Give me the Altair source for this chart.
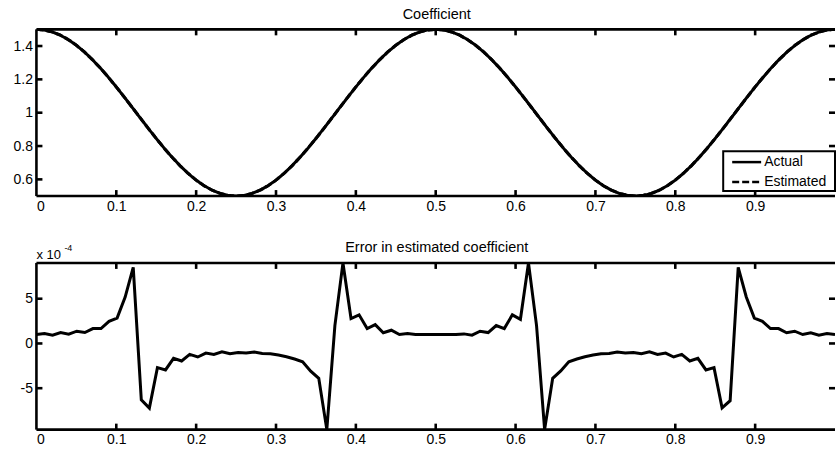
import altair as alt
import pandas as pd

# ---------------- data ----------------
# top panel: coefficient sampled on x = 0.00 ... 1.00 (step 0.01)
coef_x = [round(i * 0.01, 2) for i in range(101)]
coef_actual = [
    1.5, 1.4961, 1.4843, 1.4649, 1.4382, 1.4045, 1.3645, 1.3187, 1.2679, 1.2129,
    1.1545, 1.0937, 1.0314, 0.9686, 0.9063, 0.8455, 0.7871, 0.7321, 0.6813, 0.6355,
    0.5955, 0.5618, 0.5351, 0.5157, 0.5039, 0.5,
    0.5039, 0.5157, 0.5351, 0.5618, 0.5955, 0.6355, 0.6813, 0.7321, 0.7871, 0.8455,
    0.9063, 0.9686, 1.0314, 1.0937, 1.1545, 1.2129, 1.2679, 1.3187, 1.3645, 1.4045,
    1.4382, 1.4649, 1.4843, 1.4961, 1.5,
    1.4961, 1.4843, 1.4649, 1.4382, 1.4045, 1.3645, 1.3187, 1.2679, 1.2129, 1.1545,
    1.0937, 1.0314, 0.9686, 0.9063, 0.8455, 0.7871, 0.7321, 0.6813, 0.6355, 0.5955,
    0.5618, 0.5351, 0.5157, 0.5039, 0.5,
    0.5039, 0.5157, 0.5351, 0.5618, 0.5955, 0.6355, 0.6813, 0.7321, 0.7871, 0.8455,
    0.9063, 0.9686, 1.0314, 1.0937, 1.1545, 1.2129, 1.2679, 1.3187, 1.3645, 1.4045,
    1.4382, 1.4649, 1.4843, 1.4961, 1.5,
]
coef_estimated = list(coef_actual)

# bottom panel: error (in units of 1e-4) on x = k/99, k = 0..99
err_x = [k / 99 for k in range(100)]
err_vals = [
    1.0, 1.11, 0.93, 1.22, 1.04, 1.37, 1.22, 1.66, 1.66, 2.48, 2.84, 5.18,
    8.51, -6.3, -7.22, -2.7, -2.96, -1.66, -1.96, -1.22, -1.51, -1.07, -1.22, -0.93,
    -1.15, -1.0, -1.07, -0.96, -1.11, -1.15, -1.3, -1.48, -1.74, -2.04, -3.1, -3.9,
    -9.63, 2.0, 9.0, 2.78, 3.2, 1.66, 2.1, 1.2, 1.48, 1.0, 1.1, 1.0,
    1.0, 1.0, 1.0, 1.0, 1.0, 1.07, 0.93, 1.37, 1.22, 2.0, 1.66, 3.2,
    2.7, 9.0, 2.0, -9.63, -3.9, -3.07, -2.04, -1.74, -1.48, -1.3, -1.15, -1.11,
    -0.96, -1.07, -1.0, -1.15, -0.93, -1.22, -1.07, -1.51, -1.22, -1.96, -1.66, -2.96,
    -2.7, -7.2, -6.4, 8.5, 5.2, 2.84, 2.48, 1.66, 1.66, 1.2, 1.37, 1.0,
    1.2, 0.93, 1.1, 1.0,
]

x_ticks = [0, 0.1, 0.2, 0.3, 0.4, 0.5, 0.6, 0.7, 0.8, 0.9]
x_inner_ticks = [0.1, 0.2, 0.3, 0.4, 0.5, 0.6, 0.7, 0.8, 0.9]
top_y_ticks = [0.6, 0.8, 1, 1.2, 1.4]
err_y_ticks = [-5, 0, 5]
top_domain = [0.5, 1.5]
err_domain = [-9.63, 9.0]
legend_labels = ["Actual", "Estimated"]
titles = ["Coefficient", "Error in estimated coefficient"]
exp_text = ["x 10", "-4"]

# ---------------- layout ----------------
W, H = 800, 167
FONT = "Liberation Sans"
TICK = 6
LW = 2.6

xscale = alt.Scale(domain=[0, 1], nice=False, zero=False)
xaxis = alt.Axis(values=x_ticks, labelExpr="'' + datum.value", title=None, ticks=False, domain=False, grid=False)
one = pd.DataFrame({"a": [0]})


def yaxis(vals):
    return alt.Axis(values=vals, labelExpr="'' + datum.value", title=None, ticks=False, domain=False, grid=False)


def frame_layers(yscale, yticks):
    dx = pd.DataFrame({"t": x_inner_ticks})
    dy = pd.DataFrame({"t": yticks})
    rule = dict(color="black", strokeWidth=LW)
    X = alt.X("t:Q", scale=xscale, axis=xaxis)
    Y = alt.Y("t:Q", scale=yscale, axis=yaxis(yticks))
    return [
        alt.Chart(one).mark_rule(**rule).encode(x=alt.value(0), x2=alt.value(W), y=alt.value(0)),
        alt.Chart(one).mark_rule(**rule).encode(x=alt.value(0), x2=alt.value(W), y=alt.value(H)),
        alt.Chart(one).mark_rule(**rule).encode(x=alt.value(0), y=alt.value(0), y2=alt.value(H)),
        alt.Chart(dx).mark_rule(**rule).encode(x=X, y=alt.value(0), y2=alt.value(TICK)),
        alt.Chart(dx).mark_rule(**rule).encode(x=X, y=alt.value(H - TICK), y2=alt.value(H)),
        alt.Chart(dy).mark_rule(**rule).encode(y=Y, x=alt.value(0), x2=alt.value(TICK)),
        alt.Chart(dy).mark_rule(**rule).encode(y=Y, x=alt.value(W - TICK), x2=alt.value(W)),
    ]


def title_layer(t):
    return alt.Chart(one).mark_text(align="center", baseline="alphabetic", font=FONT, fontSize=14.5,
                                    color="black").encode(
        x=alt.value(W / 2 + 1), y=alt.value(-10.5), text=alt.value(t))


# ---- top panel ----
top_scale = alt.Scale(domain=top_domain, nice=False, zero=False)
df_top = pd.DataFrame({
    "x": coef_x + coef_x,
    "y": coef_actual + coef_estimated,
    "series": [legend_labels[0]] * len(coef_x) + [legend_labels[1]] * len(coef_x),
})
top_line = alt.Chart(df_top).mark_line(color="black", strokeWidth=3, clip=True).encode(
    x=alt.X("x:Q", scale=xscale, axis=xaxis),
    y=alt.Y("y:Q", scale=top_scale, axis=yaxis(top_y_ticks)),
    strokeDash=alt.StrokeDash("series:N", scale=alt.Scale(domain=legend_labels, range=[[1, 0], [7, 3]]), legend=None),
)

leg_box = alt.Chart(one).mark_rect(fill="white", stroke="black", strokeWidth=2).encode(
    x=alt.value(688), x2=alt.value(W), y=alt.value(122), y2=alt.value(162))
leg_l1 = alt.Chart(one).mark_rule(color="black", strokeWidth=2.5).encode(
    x=alt.value(697), x2=alt.value(726), y=alt.value(133))
leg_l2 = alt.Chart(one).mark_rule(color="black", strokeWidth=2.5, strokeDash=[7, 3]).encode(
    x=alt.value(697), x2=alt.value(726), y=alt.value(153))
leg_t1 = alt.Chart(one).mark_text(align="left", baseline="middle", font=FONT, fontSize=14, color="black").encode(
    x=alt.value(729), y=alt.value(133), text=alt.value(legend_labels[0]))
leg_t2 = alt.Chart(one).mark_text(align="left", baseline="middle", font=FONT, fontSize=14, color="black").encode(
    x=alt.value(729), y=alt.value(153), text=alt.value(legend_labels[1]))

top = alt.layer(top_line, *frame_layers(top_scale, top_y_ticks), leg_box, leg_l1, leg_l2, leg_t1, leg_t2,
                title_layer(titles[0])).properties(width=W, height=H)

# ---- bottom panel ----
err_scale = alt.Scale(domain=err_domain, nice=False, zero=False)
df_err = pd.DataFrame({"x": err_x, "y": err_vals})
err_line = alt.Chart(df_err).mark_line(color="black", strokeWidth=3, clip=True).encode(
    x=alt.X("x:Q", scale=xscale, axis=xaxis),
    y=alt.Y("y:Q", scale=err_scale, axis=yaxis(err_y_ticks)),
)
exp1 = alt.Chart(one).mark_text(align="left", baseline="alphabetic", font=FONT, fontSize=13, color="black").encode(
    x=alt.value(0), y=alt.value(-4), text=alt.value(exp_text[0]))
exp2 = alt.Chart(one).mark_text(align="left", baseline="alphabetic", font=FONT, fontSize=9, color="black").encode(
    x=alt.value(28), y=alt.value(-12), text=alt.value(exp_text[1]))

bottom = alt.layer(err_line, *frame_layers(err_scale, err_y_ticks), exp1, exp2,
                   title_layer(titles[1])).properties(width=W, height=H)

chart = alt.vconcat(top, bottom, spacing=26).properties(
    padding={"left": 12.5, "top": 6, "right": 0, "bottom": 0}, background="white"
).configure_axis(
    labelFont=FONT, labelFontSize=14, labelColor="black"
).configure_axisX(labelPadding=3).configure_axisY(labelPadding=4).configure_view(stroke="transparent")

chart.save("out.html", embed_options={"renderer": "svg", "actions": False})
